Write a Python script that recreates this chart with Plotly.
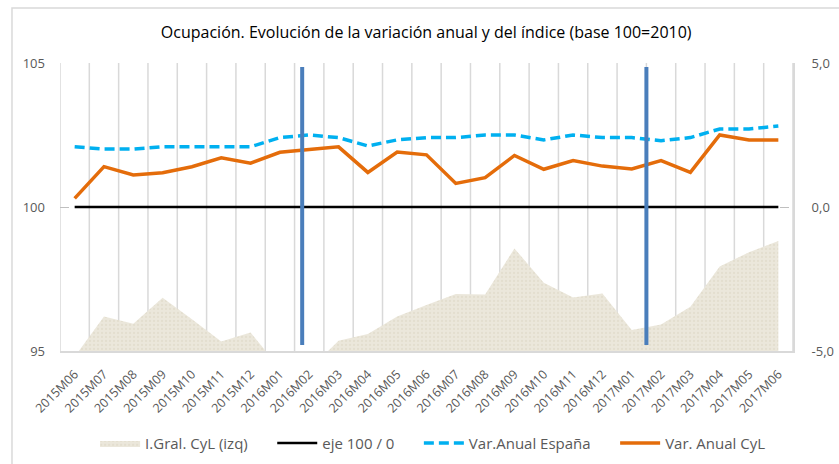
import plotly.graph_objects as go

categories = ["2015M06", "2015M07", "2015M08", "2015M09", "2015M10", "2015M11", "2015M12",
              "2016M01", "2016M02", "2016M03", "2016M04", "2016M05", "2016M06", "2016M07",
              "2016M08", "2016M09", "2016M10", "2016M11", "2016M12", "2017M01", "2017M02",
              "2017M03", "2017M04", "2017M05", "2017M06"]

indice_cyl = [94.8, 96.2, 95.95, 96.85, 96.1, 95.33, 95.64, 94.4, 94.35, 95.36, 95.59, 96.2,
              96.6, 96.98, 96.96, 98.56, 97.37, 96.86, 97.0, 95.73, 95.92, 96.54, 97.93, 98.43, 98.82]

eje = [100] * len(categories)

var_espana = [2.09, 2.01, 2.01, 2.09, 2.09, 2.09, 2.09, 2.41, 2.50, 2.41, 2.12, 2.33, 2.41,
              2.41, 2.50, 2.50, 2.33, 2.50, 2.41, 2.41, 2.30, 2.41, 2.71, 2.71, 2.81]

var_cyl = [0.30, 1.40, 1.11, 1.19, 1.40, 1.71, 1.52, 1.90, 2.00, 2.09, 1.20, 1.91, 1.81,
           0.82, 1.02, 1.79, 1.31, 1.61, 1.42, 1.32, 1.61, 1.20, 2.50, 2.33, 2.33]

left_ticks = [95, 100, 105]
left_ticktext = ["95", "100", "105"]
right_ticks = [-5, 0, 5]
right_ticktext = ["-5,0", "0,0", "5,0"]

# vertical highlight bars (category-axis positions)
highlight_x = [7.76, 19.5]

FONT = "Open Sans"
GRAY = "#595959"
PAD = "\u00a0" * 5

fig = go.Figure()

fig.add_trace(go.Scatter(
    x=list(range(len(categories))), y=indice_cyl, name="I.Gral. CyL (izq)" + PAD,
    mode="lines", line=dict(width=0, color="#e6e2d3"), fill="tozeroy",
    fillcolor="#ebe7db",
    fillpattern=dict(shape=".", fgcolor="#d9d4c2", bgcolor="#ebe7db", size=4, solidity=0.25),
    yaxis="y", hoverinfo="skip"))

fig.add_trace(go.Scatter(
    x=list(range(len(categories))), y=eje, name="eje 100 / 0" + PAD,
    mode="lines", line=dict(width=2.5, color="#000000"), yaxis="y"))

fig.add_trace(go.Scatter(
    x=list(range(len(categories))), y=var_espana, name="Var.Anual España" + PAD,
    mode="lines", line=dict(width=3.5, color="#00b0f0", dash="10px,5px"), yaxis="y2"))

fig.add_trace(go.Scatter(
    x=list(range(len(categories))), y=var_cyl, name="Var. Anual CyL",
    mode="lines", line=dict(width=3.5, color="#e46c0a"), yaxis="y2"))

shapes = []
# vertical category-boundary gridlines
for b in range(len(categories) + 1):
    shapes.append(dict(type="line", xref="x", yref="paper", x0=b - 0.5, x1=b - 0.5, y0=0, y1=1,
                       line=dict(color="#d9d9d9", width=1.5), layer="below"))
for hx in highlight_x:
    shapes.append(dict(type="line", xref="x", yref="paper", x0=hx, x1=hx, y0=0.021, y1=0.986,
                       line=dict(color="#4a7ebb", width=4), layer="above"))
# outer chart frame
shapes.append(dict(type="rect", xref="paper", yref="paper", x0=-0.0655, x1=1.08, y0=-0.45, y1=1.191,
                   line=dict(color="#d9d9d9", width=1.5), layer="below"))

fig.update_layout(
    width=839, height=464,
    margin=dict(l=60, r=46, t=63, b=113, pad=0, autoexpand=False),
    paper_bgcolor="white", plot_bgcolor="white",
    font=dict(family=FONT, color=GRAY, size=12),
    title=dict(text="Ocupación. Evolución de la variación anual y del índice (base 100=2010)",
               x=0.508, xanchor="center", y=0.931, yanchor="middle",
               font=dict(family=FONT, size=16, color="#000000")),
    xaxis=dict(
        tickmode="array", tickvals=list(range(len(categories))), ticktext=categories,
        range=[-0.5, len(categories) - 0.5], tickangle=-45, automargin=False,
        showgrid=False, zeroline=False,
        showline=True, linecolor="#d9d9d9", linewidth=2,
        ticks="", ticklabelstandoff=9, tickfont=dict(size=12.5, color=GRAY, family=FONT),
    ),
    yaxis=dict(
        range=[95, 105], tickvals=left_ticks, ticktext=left_ticktext, automargin=False,
        showgrid=True, gridcolor="#bfbfbf", griddash="dash", gridwidth=1,
        zeroline=False, showline=False, ticks="",
        ticklabelstandoff=14, tickfont=dict(size=13, color=GRAY, family=FONT),
    ),
    yaxis2=dict(
        range=[-5, 5], tickvals=right_ticks, ticktext=right_ticktext, automargin=False,
        overlaying="y", side="right", showgrid=False, zeroline=False,
        showline=True, linecolor="#d9d9d9", linewidth=2, ticks="",
        ticklabelstandoff=14, tickfont=dict(size=13, color=GRAY, family=FONT),
    ),
    showlegend=True,
    legend=dict(orientation="h", x=0.509, xanchor="center", y=-0.32, yanchor="middle",
                font=dict(size=15, color=GRAY, family=FONT), bgcolor="rgba(0,0,0,0)",
                traceorder="normal", itemwidth=40),
    shapes=shapes,
)

fig.write_html("out.html", config={"displayModeBar": False},
               post_script="document.body.style.margin='0px';")
